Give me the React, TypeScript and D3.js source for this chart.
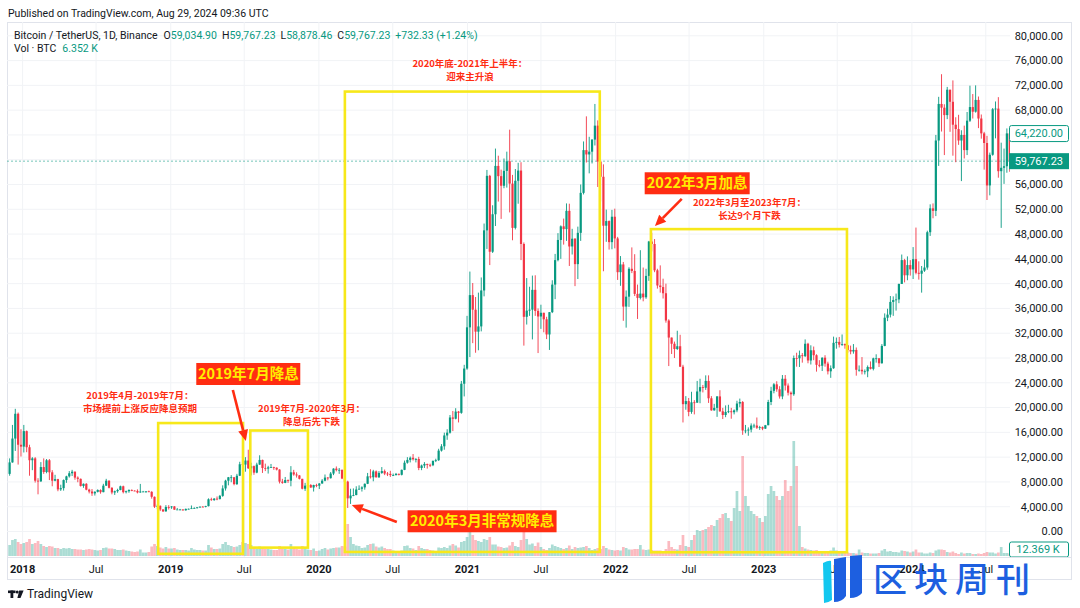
import React from "react";
import * as d3 from "d3";

type Row = [number, number, number, number];

// ---- weekly candles (open, high, low, close) by block; each block starts on the given Monday
const yearStarts = ["2017-11-27", "2018-01-01", "2018-12-31", "2019-12-30", "2021-01-04", "2022-01-03", "2023-01-02", "2024-01-01"];

const ohlc2017: Row[] = [
  [9300, 11800, 9000, 11150], [11150, 17200, 11100, 15000], [15000, 19800, 13000, 19000], [19000, 19200, 10800, 14000], [14000, 16500, 12100, 13700],
];
const ohlc2018: Row[] = [
  [13700, 17200, 12750, 16200], [16200, 16300, 12800, 13600], [13600, 14000, 9000, 11500], [11500, 12000, 9900, 11800], [11800, 12000, 7900, 8200],
  [8200, 8600, 6000, 8100], [8100, 11200, 8000, 10400], [10400, 11800, 9300, 9600], [9600, 11700, 9400, 11500],
  [11500, 11700, 8300, 9550], [9550, 9900, 7300, 8200], [8200, 9150, 8100, 8450], [8450, 8500, 6500, 6800],
  [6800, 7550, 6550, 7000], [7000, 8400, 6600, 8300], [8300, 9000, 7850, 8900], [8900, 9750, 8700, 9400], [9400, 9950, 8950, 9650],
  [9650, 9700, 8350, 8700], [8700, 8900, 7950, 8500], [8500, 8550, 7250, 7350], [7350, 7750, 7050, 7700],
  [7700, 7800, 6650, 6750], [6750, 6900, 6150, 6450], [6450, 6850, 5750, 6150], [6150, 6500, 5800, 6400],
  [6400, 6800, 6300, 6700], [6700, 6800, 6100, 6350], [6350, 7700, 6330, 7400], [7400, 8500, 7350, 8200], [8200, 8250, 6950, 7050],
  [7050, 7150, 6000, 6300], [6300, 6600, 5900, 6500], [6500, 6900, 6250, 6700], [6700, 7400, 6650, 7300],
  [7300, 7400, 6150, 6350], [6350, 6600, 6150, 6500], [6500, 6800, 6250, 6700], [6700, 6800, 6500, 6600],
  [6600, 6650, 6500, 6550], [6550, 6800, 6150, 6300], [6300, 7680, 6250, 6450], [6450, 6550, 6400, 6450], [6450, 6500, 6250, 6480],
  [6480, 6600, 6350, 6400], [6400, 6500, 5300, 5600], [5600, 5650, 3800, 4000], [4000, 4400, 3600, 4150],
  [4150, 4200, 3300, 3550], [3550, 3620, 3150, 3250], [3250, 4250, 3200, 3950], [3950, 4250, 3550, 3900],
];
const ohlc2019: Row[] = [
  [3900, 4100, 3650, 4050],
  [4050, 4100, 3500, 3520], [3520, 3800, 3500, 3550], [3550, 3650, 3450, 3550], [3550, 3600, 3350, 3420],
  [3420, 3700, 3370, 3650], [3650, 3700, 3550, 3670], [3670, 4200, 3650, 3750], [3750, 3900, 3700, 3800],
  [3800, 3950, 3700, 3900], [3900, 4050, 3850, 4000], [4000, 4100, 3950, 3990], [3990, 4150, 3900, 4100],
  [4100, 5350, 4050, 5200], [5200, 5450, 4950, 5070], [5070, 5400, 4950, 5300], [5300, 5650, 5050, 5250], [5250, 5900, 5150, 5750],
  [5750, 7450, 5600, 6950], [6950, 8350, 6600, 8200], [8200, 8800, 7450, 8750], [8750, 9100, 7950, 8750],
  [8750, 8800, 7450, 7650], [7650, 9300, 7500, 9000], [9000, 11250, 8950, 10850], [10850, 13900, 10300, 10800],
  [10800, 12000, 9650, 11450], [11450, 13200, 10100, 10200], [10200, 11100, 9050, 10550], [10550, 10650, 9150, 9500], [9500, 11100, 9400, 10800],
  [10800, 12300, 10750, 11550], [11550, 11600, 9450, 10250], [10250, 10950, 9750, 10150], [10150, 10600, 9350, 10350],
  [10350, 10900, 10300, 10400], [10400, 10450, 9950, 10300], [10300, 10350, 9850, 10000], [10000, 10050, 7750, 8050], [8050, 8500, 7700, 7850],
  [7850, 8800, 7800, 8300], [8300, 8400, 7850, 8200], [8200, 10550, 7300, 9550], [9550, 9950, 9000, 9200],
  [9200, 9550, 8700, 9050], [9050, 9100, 8400, 8500], [8500, 8500, 6800, 6900], [6900, 7850, 6550, 7400],
  [7400, 7750, 7100, 7500], [7500, 7650, 7050, 7100], [7100, 7550, 6450, 7500], [7500, 7700, 7150, 7400],
];
const ohlc2020: Row[] = [
  [7400, 7800, 6850, 7750],
  [7750, 8450, 7700, 8200], [8200, 9200, 8100, 8700], [8700, 8800, 8250, 8600], [8600, 9600, 8550, 9350],
  [9350, 10200, 9100, 10150], [10150, 10500, 9700, 9900], [9900, 10250, 9300, 9950], [9950, 10000, 8450, 8550],
  [8550, 9200, 7950, 8050], [8050, 8200, 3800, 5350], [5350, 6900, 4450, 5800], [5800, 6950, 5700, 5880], [5880, 7300, 5850, 6780],
  [6780, 7450, 6750, 6900], [6900, 7300, 6450, 7120], [7120, 7750, 6750, 7700], [7700, 9450, 7650, 8900],
  [8900, 10050, 8550, 8750], [8750, 9950, 8100, 9700], [9700, 9850, 8700, 8750], [8750, 9750, 8650, 9450],
  [9450, 10400, 9300, 9750], [9750, 10000, 9100, 9350], [9350, 9600, 8950, 9300], [9300, 9800, 8800, 9100], [9100, 9350, 8950, 9100],
  [9100, 9450, 9050, 9300], [9300, 9350, 9050, 9150], [9150, 10000, 9050, 9950], [9950, 11450, 9900, 11100],
  [11100, 12000, 10950, 11550], [11550, 12100, 11150, 11900], [11900, 12500, 11450, 11650], [11650, 11850, 11150, 11700], [11700, 12050, 9900, 10250],
  [10250, 10800, 9900, 10650], [10650, 11200, 10250, 10900], [10900, 10950, 10150, 10750], [10750, 10950, 10400, 10700],
  [10700, 11450, 10550, 11400], [11400, 11750, 11200, 11500], [11500, 13350, 11400, 13050], [13050, 14100, 12900, 13750],
  [13750, 15950, 13200, 15500], [15500, 16500, 14800, 15950], [15950, 18800, 15800, 18400], [18400, 19450, 16200, 18200], [18200, 19900, 18100, 19350],
  [19350, 19450, 17600, 19150], [19150, 24300, 19000, 23850], [23850, 26900, 21800, 26300], [26300, 34800, 26100, 32950],
];
const ohlc2021: Row[] = [
  [32950, 41950, 28150, 38150], [38150, 40100, 30400, 35800], [35800, 37850, 28850, 32250], [32250, 38550, 29250, 33100],
  [33100, 41000, 32300, 38900], [38900, 49700, 37950, 48600], [48600, 58350, 45600, 57400], [57400, 57550, 43000, 45150],
  [45150, 52650, 44950, 51200], [51200, 61800, 49300, 59000], [59000, 60650, 53250, 57350], [57350, 58400, 50450, 55800], [55800, 60200, 55400, 58200],
  [58200, 61300, 55500, 59750], [59750, 64850, 51500, 56150], [56150, 57550, 47000, 49000], [49000, 58500, 48750, 56600],
  [56600, 59500, 52900, 58250], [58250, 59600, 43800, 46400], [46400, 46650, 30000, 34650], [34650, 40900, 33400, 35650], [35650, 39500, 34800, 35800],
  [35800, 41300, 31000, 39000], [39000, 41350, 34800, 35600], [35600, 36000, 28800, 34700], [34700, 36600, 32700, 35300],
  [35300, 35300, 32150, 34250], [34250, 34650, 31050, 31800], [31800, 35400, 29300, 35400], [35400, 40550, 35250, 39850],
  [39850, 44800, 37500, 43800], [43800, 48150, 43600, 47050], [47050, 49400, 44000, 49250], [49250, 50500, 46300, 48800], [48800, 52950, 46900, 51750],
  [51750, 52900, 42850, 46000], [46000, 48850, 44700, 47250], [47250, 47350, 39600, 43150], [43150, 49200, 40750, 48200],
  [48200, 56000, 46900, 54650], [54650, 62950, 54400, 61550], [61550, 67000, 59550, 60850], [60850, 63700, 57800, 61300],
  [61300, 63300, 59400, 63250], [63250, 69000, 62300, 65500], [65500, 66350, 55600, 59700], [59700, 59950, 53250, 57250], [57250, 59250, 42000, 49350],
  [49350, 51950, 46750, 50100], [50100, 50200, 45500, 46700], [46700, 51900, 45550, 50800], [50800, 52100, 45700, 47300],
];
const ohlc2022: Row[] = [
  [47300, 47550, 40600, 41850], [41850, 44450, 39650, 43100], [43100, 43500, 34000, 36300], [36300, 38900, 32900, 37900], [37900, 42650, 36250, 42400],
  [42400, 45850, 41700, 42050], [42050, 44750, 38000, 38350], [38350, 39850, 34300, 37700], [37700, 45400, 37450, 38400],
  [38400, 42600, 37150, 37800], [37800, 42400, 37550, 41250], [41250, 46900, 40450, 46800], [46800, 48200, 45200, 46400],
  [46400, 47200, 41850, 42150], [42150, 42400, 39200, 39700], [39700, 42950, 38550, 39450], [39450, 40800, 37600, 38450],
  [38450, 40000, 33700, 34050], [34050, 34250, 26700, 31300], [31300, 31300, 28650, 30300], [30300, 30650, 28000, 29450], [29450, 32400, 29300, 29900],
  [29900, 31750, 26550, 26600], [26600, 26900, 17600, 20550], [20550, 21850, 19650, 21050], [21050, 21550, 18600, 19300],
  [19300, 22550, 19000, 20850], [20850, 21200, 18900, 20800], [20800, 24300, 20750, 22600], [22600, 24650, 20700, 23300],
  [23300, 23650, 22450, 23200], [23200, 25200, 22850, 24300], [24300, 25200, 20750, 21500], [21500, 21850, 19500, 19550], [19550, 20600, 19500, 19950],
  [19950, 21850, 18500, 21800], [21800, 22800, 19300, 19400], [19400, 19950, 18150, 18800], [18800, 20350, 18450, 19300],
  [19300, 20450, 19100, 19400], [19400, 19950, 18200, 19250], [19250, 19700, 18900, 19550], [19550, 21100, 19250, 20650], [20650, 21450, 20050, 20900],
  [20900, 21050, 15600, 16300], [16300, 17200, 15850, 16300], [16300, 16800, 15450, 16450], [16450, 17450, 16000, 17100],
  [17100, 17400, 16700, 17100], [17100, 18400, 16550, 16750], [16750, 17050, 16400, 16850], [16850, 16950, 16350, 16600],
];
const ohlc2023: Row[] = [
  [16600, 17200, 16550, 17150], [17150, 21250, 17150, 20900], [20900, 23350, 20400, 22700], [22700, 23950, 22300, 23750], [23750, 24250, 22550, 22950],
  [22950, 23450, 21450, 21800], [21800, 25250, 21350, 24650], [24650, 25250, 22750, 23550], [23550, 23900, 21950, 22400],
  [22400, 22600, 19550, 22150], [22150, 28400, 21900, 28000], [28000, 28850, 26600, 27950], [27950, 29200, 26550, 28450],
  [28450, 28800, 27250, 28300], [28300, 31000, 28150, 30300], [30300, 30450, 27150, 27600], [27600, 30050, 26950, 29250],
  [29250, 29850, 27650, 28450], [28450, 28600, 25800, 26900], [26900, 27650, 26500, 26750], [26750, 28100, 25900, 28050], [28050, 28450, 26600, 27100],
  [27100, 27400, 25350, 25850], [25850, 26800, 24800, 26350], [26350, 31450, 26250, 30450], [30450, 31300, 29500, 30600],
  [30600, 31400, 29700, 30150], [30150, 31800, 29950, 30250], [30250, 30350, 29500, 30050], [30050, 30100, 28850, 29300], [29300, 30000, 28600, 29050],
  [29050, 30250, 28700, 29300], [29300, 29700, 25150, 26100], [26100, 26800, 25800, 26100], [26100, 28150, 25350, 25850],
  [25850, 26150, 25350, 25850], [25850, 26800, 24900, 26550], [26550, 27450, 26150, 26250], [26250, 28050, 26000, 27950],
  [27950, 28600, 27250, 27950], [27950, 28000, 26550, 27150], [27150, 30250, 27100, 29950], [29950, 35200, 29900, 34500], [34500, 35950, 33950, 35000],
  [35000, 38000, 34550, 37050], [37050, 37950, 34800, 37350], [37350, 38400, 35650, 37450], [37450, 40000, 36850, 39950],
  [39950, 44700, 39950, 43800], [43800, 44000, 40200, 41350], [41350, 44400, 40550, 43000], [43000, 43800, 41300, 42300],
];
const ohlc2024: Row[] = [
  [42300, 45900, 40750, 43950], [43950, 49050, 41500, 41750], [41750, 43600, 40650, 41600], [41600, 42850, 38550, 42100], [42100, 43900, 41900, 42600],
  [42600, 48550, 42250, 48300], [48300, 52800, 47700, 52150], [52150, 52950, 50550, 51750], [51750, 64000, 50900, 63100],
  [63100, 70150, 59000, 69000], [69000, 73800, 64550, 68400], [68400, 68950, 60750, 67200], [67200, 71750, 66550, 71300],
  [71300, 71300, 64500, 69350], [69350, 72800, 60650, 65650], [65650, 66850, 59600, 64950], [64950, 67250, 62400, 63100], [63100, 64750, 56550, 64000],
  [64000, 65500, 60200, 61550], [61550, 67700, 60750, 66300], [66300, 71950, 66100, 68500], [68500, 70600, 66650, 67750],
  [67750, 72000, 67600, 69650], [69650, 70200, 65100, 66650], [66650, 67300, 63400, 64250], [64250, 64500, 58400, 62700],
  [62700, 63850, 53500, 55850], [55850, 61150, 54250, 60800], [60800, 68350, 60650, 68150], [68150, 69400, 63450, 68250], [68250, 70100, 57100, 58150],
  [58150, 62750, 49000, 58700], [58700, 61800, 56100, 58950], [58950, 65050, 57900, 64250], [64250, 64500, 58050, 59767.23],
];

// ---- volume (thousand BTC, representative daily volume of each week)
const vol2017 = [110, 160, 170, 140, 120];
const vol2018 = [130, 140, 170, 120, 130, 150, 120, 100, 90, 100, 95, 80, 80, 70, 80, 75, 80, 70, 70, 65, 65, 60, 65, 70, 65, 60,
  55, 60, 80, 85, 75, 75, 70, 60, 60, 65, 55, 50, 45, 40, 45, 65, 35, 35, 40, 95, 120, 100, 85, 75, 90, 75];
const vol2019 = [75, 80, 65, 60, 60, 60, 55, 80, 65, 60, 60, 55, 55, 110, 85, 70, 70, 75, 120, 140, 110, 100, 90, 95, 110, 140,
  130, 120, 110, 85, 75, 95, 85, 70, 70, 65, 60, 60, 100, 75, 70, 65, 120, 85, 70, 65, 100, 90, 65, 60, 75, 50];
const vol2020 = [55, 70, 80, 65, 75, 80, 85, 85, 100, 95, 320, 190, 120, 105, 100, 80, 85, 110, 120, 125, 95, 85, 95, 80, 70, 70, 55,
  50, 45, 55, 100, 105, 80, 75, 60, 100, 80, 70, 70, 60, 55, 50, 85, 80, 90, 80, 105, 120, 105, 85, 140, 150, 190];
const vol2021 = [260, 210, 160, 150, 140, 170, 160, 190, 115, 115, 95, 90, 80, 85, 105, 140, 100, 90, 160, 260, 170, 115, 125, 100, 135, 90,
  70, 60, 80, 115, 100, 90, 80, 70, 80, 105, 70, 90, 80, 85, 90, 100, 80, 60, 70, 80, 70, 100, 80, 65, 60, 55];
const vol2022 = [60, 55, 90, 80, 65, 65, 70, 70, 110, 65, 60, 65, 60, 55, 55, 55, 50, 70, 150, 90, 70, 65, 110, 210, 100, 90,
  160, 210, 260, 250, 260, 270, 290, 310, 300, 360, 380, 420, 430, 380, 350, 480, 650, 450, 1000, 600, 500, 450, 420, 400, 380, 340];
const vol2023 = [400, 620, 700, 650, 600, 560, 600, 760, 650, 700, 1150, 900, 300, 90, 75, 65, 60, 55, 60, 40, 45, 40, 45, 55, 85, 55,
  45, 40, 30, 35, 30, 30, 25, 65, 35, 30, 30, 25, 25, 25, 30, 55, 70, 45, 50, 40, 40, 35, 55, 50, 45, 35];
const vol2024 = [45, 65, 35, 35, 25, 25, 35, 30, 55, 65, 65, 60, 40, 35, 45, 30, 20, 35, 25, 30, 30, 20, 20, 25, 20, 30,
  40, 35, 35, 25, 35, 90, 30, 30, 25];

// ---- axis ticks
const yearTicks = [2018, 2019, 2020, 2021, 2022, 2023, 2024];
const julTicks = [2018, 2019, 2020, 2021, 2022, 2023, 2024];
const priceTicks = [0, 4000, 8000, 12000, 16000, 20000, 24000, 28000, 32000, 36000, 40000, 44000, 48000, 52000, 56000, 68000, 72000, 76000, 80000];
const gridPrices = d3.range(0, 80001, 4000);

// ---- legend values
const lastOpen = "59,034.90";
const lastHigh = "59,767.23";
const lastLow = "58,878.46";
const lastClose = "59,767.23";
const lastChange = "+732.33 (+1.24%)";
const lastVol = "6.352 K";
const lastPrice = 59767.23;
const markPrice = 64220;
const volLabel = "12.369 K";

// ---- annotations (in data units)
const boxes = [
  { from: "2018-12-01", to: "2019-06-28", top: 17500, bottom: -3600 },
  { from: "2019-07-16", to: "2019-12-05", top: 16300, bottom: -2600 },
  { from: "2020-03-05", to: "2021-11-23", top: 71000, bottom: -3300 },
  { from: "2022-03-29", to: "2023-07-25", top: 48800, bottom: -3350 },
];
const notes = [
  { date: "2018-10-17", price: 21950, lines: ["2019年4月-2019年7月：", "市场提前上涨反应降息预期"] },
  { date: "2019-12-14", price: 19850, lines: ["2019年7月-2020年3月：", "降息后先下跌"] },
  { date: "2021-01-07", price: 75540, lines: ["2020年底-2021年上半年：", "迎来主升浪"] },
  { date: "2022-11-27", price: 53100, lines: ["2022年3月至2023年7月：", "长达9个月下跌"] },
];
const badges = [
  { date: "2019-07-11", price: 25420, text: "2019年7月降息", w: 104 },
  { date: "2021-02-06", price: 1650, text: "2020年3月非常规降息", w: 149 },
  { date: "2022-07-21", price: 56200, text: "2022年3月加息", w: 105 },
];
const arrows: { from: [string, number]; to: [string, number] }[] = [
  { from: ["2019-06-03", 22840], to: ["2019-07-05", 14610] },
  { from: ["2020-07-11", 1530], to: ["2020-03-22", 4280] },
  { from: ["2022-06-13", 53670], to: ["2022-04-08", 49310] },
];

const parse = d3.utcParse("%Y-%m-%d");
const DAY = 86400000;
const ohlcBlocks = [ohlc2017, ohlc2018, ohlc2019, ohlc2020, ohlc2021, ohlc2022, ohlc2023, ohlc2024];
const volBlocks = [vol2017, vol2018, vol2019, vol2020, vol2021, vol2022, vol2023, vol2024];

const candles = ohlcBlocks.flatMap((rows, i) => {
  const s = +parse(yearStarts[i])!;
  return rows.map((r, j) => ({
    date: new Date(s + (j * 7 + 3) * DAY),
    o: r[0], h: r[1], l: r[2], c: r[3],
    v: volBlocks[i][j] ?? 0,
  }));
});

const UP = "#089981";
const DOWN = "#f23645";
const RED = "#ff2d12";
const YELLOW = "#f7e81a";
const FONT = "Roboto, 'Noto Sans', sans-serif";
const CJK = "'Noto Sans CJK SC', sans-serif";

export default function App() {
  const x = d3.scaleUtc()
    .domain([parse("2018-01-01")!, parse("2024-01-01")!])
    .range([22.6, 22.6 + 148.25 * (2191 / 365.25)]);
  const y = d3.scaleLinear().domain([0, 80000]).range([531.5, 35.8]);
  const yv = d3.scaleLinear().domain([0, 1200]).range([556, 436]);
  const fmt = d3.format(",.2f");

  const plotL = 7, plotR = 1010, plotT = 22, plotB = 557;

  return (
    <svg width={1080} height={608} style={{ position: "absolute", left: 0, top: 0, background: "#fff" }} fontFamily={FONT}>
      <defs>
        <clipPath id="plot"><rect x={plotL} y={plotT} width={plotR - plotL} height={plotB - plotT} /></clipPath>
      </defs>
      <rect x={0} y={0} width={1080} height={608} fill="#fff" />
      <text x={8} y={17} fontSize={10.5} fill="#131722">Published on TradingView.com, Aug 29, 2024 09:36 UTC</text>

      {/* frame */}
      <rect x={7.5} y={22.5} width={1064} height={557} fill="none" stroke="#e0e3eb" />

      {/* grid */}
      <g clipPath="url(#plot)">
        {gridPrices.map((p) => (
          <line key={"g" + p} x1={plotL} x2={plotR} y1={y(p)} y2={y(p)} stroke="#f1f3f6" />
        ))}
        {yearTicks.map((yr) => (
          <line key={"vy" + yr} x1={x(parse(`${yr}-01-01`)!)} x2={x(parse(`${yr}-01-01`)!)} y1={plotT} y2={plotB} stroke="#f1f3f6" />
        ))}
        {julTicks.map((yr) => (
          <line key={"vj" + yr} x1={x(parse(`${yr}-07-01`)!)} x2={x(parse(`${yr}-07-01`)!)} y1={plotT} y2={plotB} stroke="#f1f3f6" />
        ))}
      </g>

      {/* volume */}
      <g clipPath="url(#plot)">
        {candles.map((d, i) => {
          const cx = x(d.date);
          return (
            <rect key={"v" + i} x={cx - 1.35} width={2.7} y={yv(d.v)} height={yv(0) - yv(d.v)}
              fill={d.c >= d.o ? UP : DOWN} fillOpacity={0.34} />
          );
        })}
      </g>

      {/* price line */}
      <line x1={plotL} x2={plotR} y1={y(lastPrice)} y2={y(lastPrice)} stroke={UP} strokeOpacity={0.55} strokeDasharray="2 2" />

      {/* candles */}
      <g clipPath="url(#plot)">
        {candles.map((d, i) => {
          const cx = x(d.date);
          const col = d.c >= d.o ? UP : DOWN;
          const top = y(Math.max(d.o, d.c));
          const bot = y(Math.min(d.o, d.c));
          return (
            <g key={"c" + i}>
              <line x1={cx} x2={cx} y1={y(d.h)} y2={y(d.l)} stroke={col} strokeWidth={0.9} />
              <rect x={cx - 1.1} width={2.2} y={top} height={Math.max(0.8, bot - top)} fill={col} />
            </g>
          );
        })}
      </g>

      {/* yellow boxes */}
      {boxes.map((b, i) => {
        const x0 = x(parse(b.from)!), x1 = x(parse(b.to)!);
        const y0 = y(b.top), y1 = y(b.bottom);
        return <rect key={"b" + i} x={x0} y={y0} width={x1 - x0} height={y1 - y0} fill="none" stroke={YELLOW} strokeWidth={2.6} />;
      })}

      {/* red notes */}
      {notes.map((n, i) => (
        <text key={"n" + i} x={x(parse(n.date)!)} y={y(n.price)} textAnchor="middle" fontFamily={CJK} fontSize={9.5} fontWeight={700} fill={RED}>
          <tspan x={x(parse(n.date)!)} dy="0.35em">{n.lines[0]}</tspan>
          <tspan x={x(parse(n.date)!)} dy={13}>{n.lines[1]}</tspan>
        </text>
      ))}

      {/* arrows */}
      {arrows.map((a, i) => {
        const x0 = x(parse(a.from[0])!), y0 = y(a.from[1]);
        const x1 = x(parse(a.to[0])!), y1 = y(a.to[1]);
        const ang = Math.atan2(y1 - y0, x1 - x0);
        const hl = 11, hw = 5;
        const bx = x1 - hl * Math.cos(ang), by = y1 - hl * Math.sin(ang);
        const px = -Math.sin(ang) * hw, py = Math.cos(ang) * hw;
        return (
          <g key={"a" + i}>
            <line x1={x0} y1={y0} x2={bx} y2={by} stroke={RED} strokeWidth={2.6} />
            <path d={`M${x1},${y1}L${bx + px},${by + py}L${bx - px},${by - py}Z`} fill={RED} />
          </g>
        );
      })}

      {/* badges */}
      {badges.map((b, i) => {
        const cx = x(parse(b.date)!), cy = y(b.price);
        return (
          <g key={"bd" + i}>
            <rect x={cx - b.w / 2} y={cy - 11} width={b.w} height={22} fill={RED} />
            <text x={cx} y={cy} dy="0.36em" textAnchor="middle" fontFamily={CJK} fontSize={14.5} fontWeight={700} fill="#ffee00">{b.text}</text>
          </g>
        );
      })}

      {/* legend */}
      <text x={14} y={39} fontSize={10.5} fill="#131722">
        <tspan>Bitcoin / TetherUS, 1D, Binance</tspan>
        <tspan dx={6}>O</tspan><tspan fill={UP}>{lastOpen}</tspan>
        <tspan dx={5}>H</tspan><tspan fill={UP}>{lastHigh}</tspan>
        <tspan dx={5}>L</tspan><tspan fill={UP}>{lastLow}</tspan>
        <tspan dx={5}>C</tspan><tspan fill={UP}>{lastClose}</tspan>
        <tspan dx={5} fill={UP}>{lastChange}</tspan>
      </text>
      <text x={14} y={52} fontSize={10.5} fill="#131722">
        <tspan>Vol · BTC</tspan>
        <tspan dx={6} fill={UP}>{lastVol}</tspan>
      </text>

      {/* price axis */}
      {priceTicks.map((p) => (
        <text key={"p" + p} x={1063} y={y(p)} dy="0.35em" textAnchor="end" fontSize={11} fill="#131722">{fmt(p)}</text>
      ))}
      <rect x={1009.5} y={y(markPrice) - 8} width={59} height={16} rx={2} fill="#fff" stroke={UP} />
      <text x={1063} y={y(markPrice)} dy="0.35em" textAnchor="end" fontSize={11} fill={UP}>{fmt(markPrice)}</text>
      <rect x={1009} y={y(lastPrice) - 8} width={60} height={16} fill={UP} />
      <text x={1063} y={y(lastPrice)} dy="0.35em" textAnchor="end" fontSize={11} fill="#fff">{fmt(lastPrice)}</text>
      <rect x={1009.5} y={yv(0) - 14} width={59} height={15} rx={2} fill="#fff" stroke={UP} />
      <text x={1038} y={yv(0) - 6.5} dy="0.35em" textAnchor="middle" fontSize={11} fill={UP}>{volLabel}</text>

      {/* time axis */}
      <line x1={plotL} x2={1072} y1={plotB + 0.5} y2={plotB + 0.5} stroke="#e0e3eb" />
      {yearTicks.map((yr) => (
        <text key={"ty" + yr} x={x(parse(`${yr}-01-01`)!)} y={573} textAnchor="middle" fontSize={11} fontWeight={700} fill="#131722">{yr}</text>
      ))}
      {julTicks.map((yr) => (
        <text key={"tj" + yr} x={x(parse(`${yr}-07-01`)!)} y={573} textAnchor="middle" fontSize={11} fill="#131722">Jul</text>
      ))}

      {/* TradingView footer */}
      <g fill="#131722">
        <rect x={8} y={590.5} width={7.5} height={2.6} />
        <rect x={10.5} y={590.5} width={2.8} height={7.5} />
        <circle cx={17.2} cy={592} r={1.5} />
        <path d="M19.2,590.5L23.6,590.5L20.5,598L17.4,598Z" />
      </g>
      <text x={27} y={598} fontSize={12} fill="#131722">TradingView</text>

      {/* watermark logo */}
      <g>
        <path d="M823,563 Q829,560 831,561 L832,600 Q828,603 824,603 Z" fill="#13c7ef" />
        <path d="M834,559 L846,557 L846,596 Q842,602 834,602 Z" fill="#1d5fe0" />
        <path d="M850,556 L862,555 L862,593 Q858,598 850,598 Z" fill="#1d5fe0" />
      </g>
      <text x={873} y={592} fontFamily={CJK} fontSize={34} fontWeight={500} letterSpacing={7} fill="#1d5fe0">区块周刊</text>
    </svg>
  );
}
